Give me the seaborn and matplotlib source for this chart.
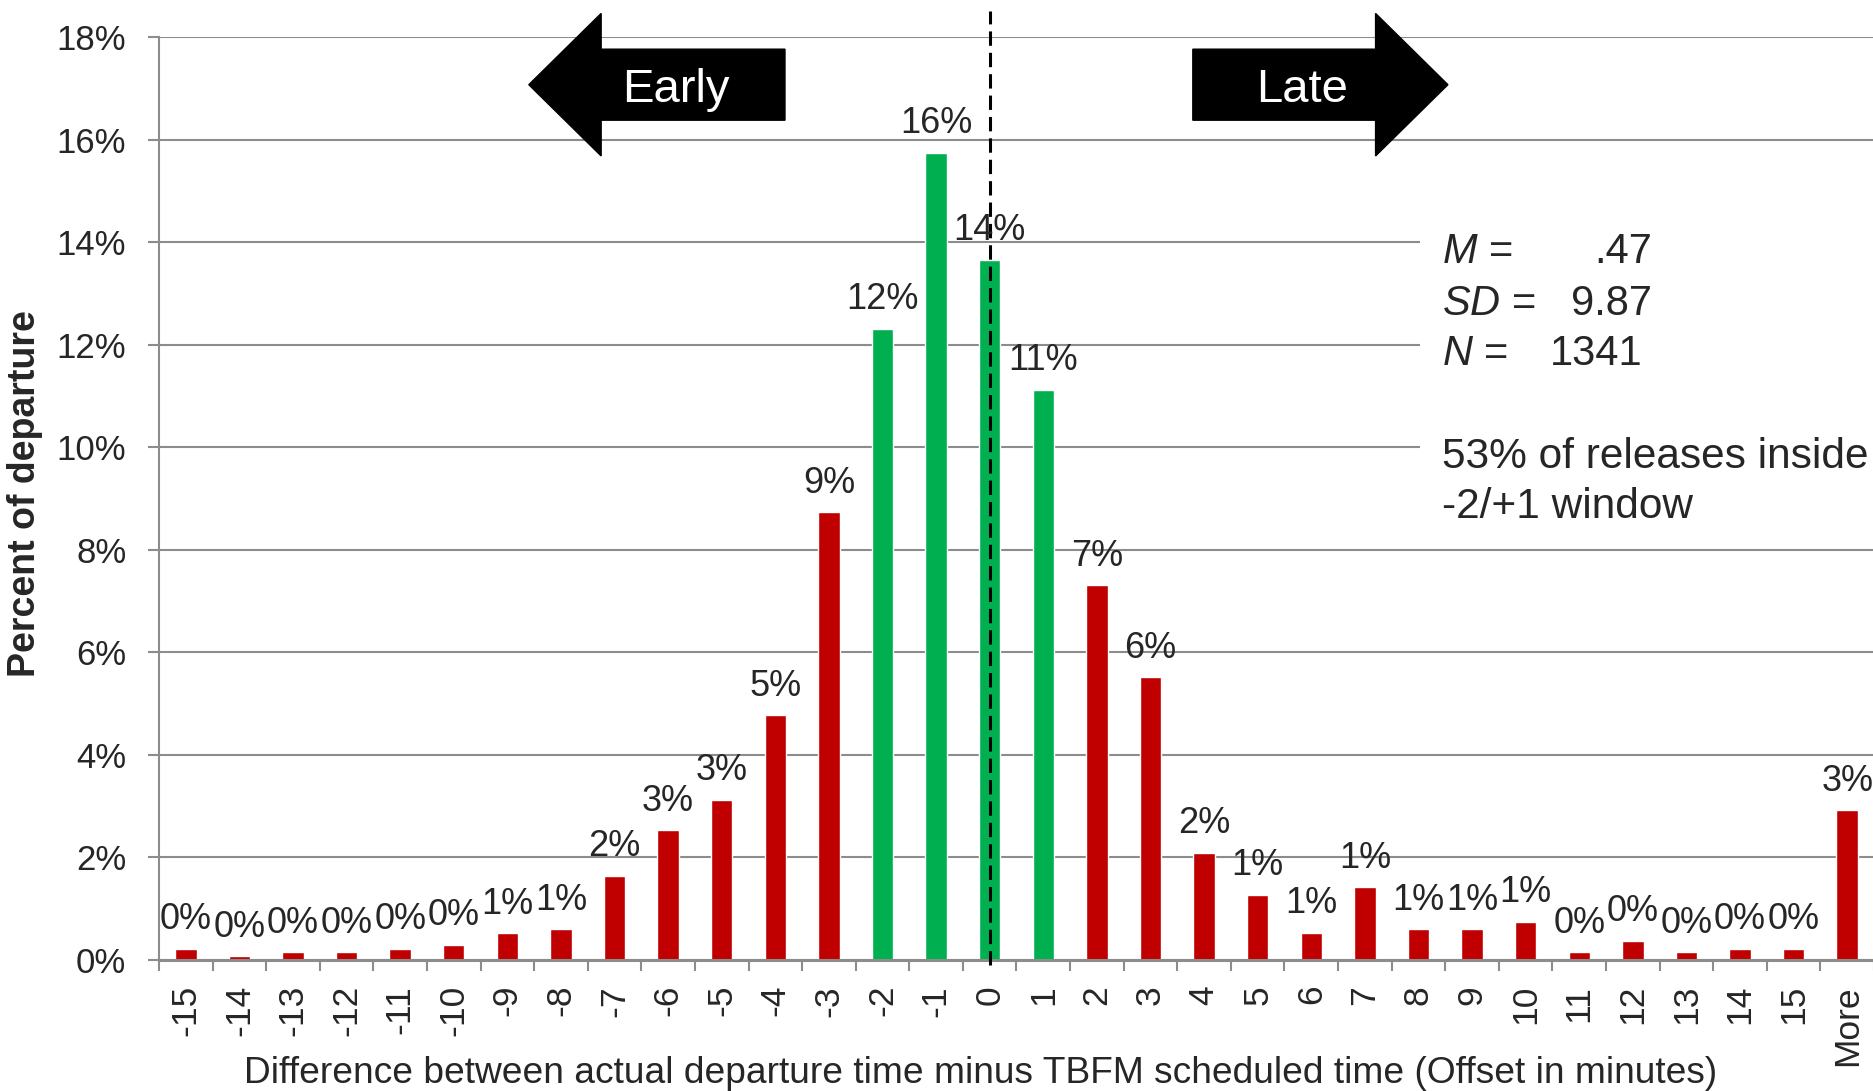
import matplotlib
matplotlib.use("Agg")
import matplotlib.pyplot as plt
from matplotlib.patches import FancyArrow, Rectangle
import numpy as np
import pandas as pd
import seaborn as sns

# Departure offset bins (minutes) and share of departures in each bin (%)
offsets = [str(m) for m in range(-15, 16)] + ["More"]
pct = [0.22, 0.07, 0.15, 0.15, 0.22, 0.30, 0.52, 0.60, 1.64, 2.53, 3.13,
       4.77, 8.73, 12.31, 15.74, 13.66, 11.12, 7.31, 5.51, 2.09, 1.27,
       0.53, 1.42, 0.60, 0.60, 0.75, 0.15, 0.38, 0.15, 0.22, 0.22, 2.92]
inside_window = ["-2", "-1", "0", "1"]

stat_names = [r"$M$ =", r"$SD$ =", r"$N$ ="]
stat_values = [".47", "9.87", "1341"]
note_lines = ["53% of releases inside", "-2/+1 window"]

yticks = list(range(0, 19, 2))

df = pd.DataFrame({
    "offset": offsets,
    "pct": pct,
    "window": ["inside" if o in inside_window else "outside" for o in offsets],
})

sns.set_theme(style="white")
plt.rcParams["font.family"] = ["Liberation Sans", "DejaVu Sans"]
plt.rcParams["mathtext.fontset"] = "custom"
plt.rcParams["mathtext.it"] = "Liberation Sans:italic"
plt.rcParams["mathtext.rm"] = "Liberation Sans"

GRID = "#8c8c8c"
RED = "#C00000"
GREEN = "#00B050"

fig = plt.figure(figsize=(18.74, 10.91), dpi=100)
ax = fig.add_axes([159 / 1874, 131 / 1091, 1715 / 1874, 923 / 1091])

sns.barplot(data=df, x="offset", y="pct", hue="window", order=offsets,
            palette={"inside": GREEN, "outside": RED}, dodge=False,
            width=0.4, saturation=1, errorbar=None, legend=False, ax=ax)

ax.set_xlim(-0.5, len(offsets) - 0.5)
ax.set_ylim(0, 18)

# Axes styling
ax.set_axisbelow(True)
ax.yaxis.grid(True, color=GRID, lw=1.5)
ax.xaxis.grid(False)
for side in ("top", "right"):
    ax.spines[side].set_visible(False)
ax.spines["left"].set_color(GRID)
ax.spines["left"].set_linewidth(1.5)
ax.spines["bottom"].set_color(GRID)
ax.spines["bottom"].set_linewidth(2.2)

ax.set_yticks(yticks)
ax.set_yticklabels([f"{t}%" for t in yticks], fontsize=25)
ax.tick_params(axis="y", which="major", direction="out", length=8,
               width=1.5, color=GRID, pad=15.5, left=True)

ax.set_xticks(range(len(offsets)))
ax.set_xticklabels(offsets, rotation=90, fontsize=25.5)
ax.set_xticks(np.arange(-0.5, len(offsets)), minor=True)
ax.tick_params(axis="x", which="major", length=0, pad=18, bottom=True)
ax.tick_params(axis="x", which="minor", direction="out", length=8,
               width=1.5, color=GRID, bottom=True)

ax.set_xlabel("Difference between actual departure time minus TBFM scheduled time (Offset in minutes)",
              fontsize=26.7)
ax.xaxis.set_label_coords(0.479, -0.104)
ax.set_ylabel("Percent of departure", fontsize=27, fontweight="bold")
ax.yaxis.label.set_va("baseline")
ax.yaxis.set_label_coords(-0.0725, 0.505)

# Value labels above each bar
for i, v in enumerate(pct):
    ax.annotate(f"{v:.0f}%", (i, v), xytext=(0, 14), textcoords="offset points",
                ha="center", va="baseline", fontsize=26, zorder=6,
                annotation_clip=False)

# Scheduled-time reference line
zero = offsets.index("0")
ax.plot([zero, zero], [-0.1, 18.5], color="black", lw=2.2,
        ls=(0, (4.7, 2.3)), clip_on=False, zorder=5)

# Early / Late direction arrows
arrow_kw = dict(width=1.385, head_width=2.78, head_length=1.35,
                length_includes_head=True, color="black", clip_on=False, zorder=6)
ax.add_patch(FancyArrow(11.18, 17.07, -4.78, 0, **arrow_kw))
ax.add_patch(FancyArrow(18.79, 17.07, 4.76, 0, **arrow_kw))
ax.text(9.15, 16.73, "Early", color="white", fontsize=34, ha="center",
        va="baseline", zorder=7, clip_on=False)
ax.text(20.83, 16.73, "Late", color="white", fontsize=34, ha="center",
        va="baseline", zorder=7, clip_on=False)

# Summary statistics panel
yt = ax.get_yaxis_transform()
ax.add_patch(Rectangle((0.7353, 8.25), 0.3, 6.6, transform=yt, facecolor="white",
                       edgecolor="none", zorder=1, clip_on=False))
stat_y = [13.59, 12.58, 11.60]
stat_right = [0.8706, 0.8706, 0.8653]
for name, val, y, xr in zip(stat_names, stat_values, stat_y, stat_right):
    ax.text(0.748, y, name, transform=yt, fontsize=30, ha="left", va="baseline", zorder=7)
    ax.text(xr, y, val, transform=yt, fontsize=30, ha="right", va="baseline", zorder=7)
for line, y in zip(note_lines, [9.59, 8.62]):
    ax.text(0.748, y, line, transform=yt, fontsize=30.5, ha="left", va="baseline", zorder=7)

fig.savefig("out.png", dpi=100)
